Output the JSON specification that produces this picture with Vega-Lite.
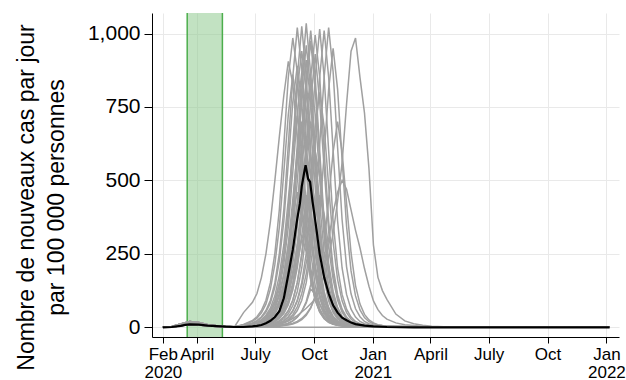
{
"$schema":"https://vega.github.io/schema/vega-lite/v6.json",
"width":467,"height":324,
"autosize":"none",
"padding":{"left":152,"top":13,"right":7,"bottom":43},
"config":{"view":{"stroke":null},"font":"Liberation Sans",
"axis":{"labelFont":"Liberation Sans","titleFont":"Liberation Sans","labelColor":"#000","titleColor":"#000","domainColor":"#000","tickColor":"#000","gridColor":"#e9e9e9","gridWidth":1,"titleFontWeight":"normal","domainWidth":1,"tickWidth":1}},
"encoding":{"x":{"field":"d","type":"temporal",
 "scale":{"type":"utc","nice":false,"domain":[{"year":2020,"month":1,"date":22,"utc":true},{"year":2022,"month":1,"date":20,"hours":16,"utc":true}]},
 "axis":{"title":null,"grid":true,"values":[{"year":2020,"month":2,"date":8,"utc":true},{"year":2020,"month":4,"date":1,"utc":true},{"year":2020,"month":7,"date":1,"utc":true},{"year":2020,"month":10,"date":1,"utc":true},{"year":2021,"month":1,"date":1,"utc":true},{"year":2021,"month":4,"date":1,"utc":true},{"year":2021,"month":7,"date":1,"utc":true},{"year":2021,"month":10,"date":1,"utc":true},{"year":2022,"month":1,"date":1,"utc":true}],
 "labelExpr":"utcmonth(datum.value)==1 ? ['Feb','2020'] : utcmonth(datum.value)==3 ? 'April' : utcmonth(datum.value)==6 ? 'July' : utcmonth(datum.value)==9 ? 'Oct' : ['Jan', utcyear(datum.value)+'']",
 "labelFontSize":17,"labelLineHeight":18,"tickSize":6,"labelPadding":3,"labelOverlap":false,"labelFlush":false,"labelBound":false}}},
"layer":[
{"data":{"values":[{"d":"2020-03-17","d2":"2020-05-11"}]},
 "mark":{"type":"rect","fill":"#8fcb8f","fillOpacity":0.55,"strokeWidth":0},
 "encoding":{"x2":{"field":"d2"}}},
{"data":{"values":[{"d":"2020-03-17"},{"d":"2020-05-11"}]},
 "mark":{"type":"rule","stroke":"#4cae4c","strokeWidth":1.5},
 "encoding":{}},
{"data":{"values":[
{"s":"a","vals":[0,3,11,20,16,9,5,3,2,50,85,115,170,250,360,500,650,790,905,830,640,430,270,160,95,55,33,20,13,9,7,5,4,3,3,2,2,2,1,1,1,1,0,0,0,0,0,0]},
{"s":"b","vals":[0,2,8,15,12,7,4,3,2,10,23,36,57,92,152,252,402,622,852,985,870,580,362,202,112,62,35,20,12,8,6,5,4,3,3,2,2,2,2,1,1,1,1,1,0,0,0,0]},
{"s":"c","vals":[0,1,5,10,8,5,3,2,1,9,20,31,49,79,130,215,342,529,725,860,740,512,308,172,96,53,30,17,11,7,5,5,4,3,3,2,2,2,2,1,1,1,1,0,0,0,0,0]},
{"s":"d","vals":[0,2,7,13,10,6,4,2,2,7,15,23,36,57,92,152,252,402,622,852,1020,880,600,362,202,112,62,35,20,12,8,6,5,4,3,3,2,2,2,2,1,1,1,1,0,0,0,0]},
{"s":"e","vals":[0,2,8,15,12,7,4,3,2,7,14,21,33,52,83,137,227,362,560,767,890,765,540,326,182,101,56,32,18,11,7,6,5,4,3,3,2,2,2,1,1,1,1,0,0,0,0,0]},
{"s":"f","vals":[0,3,11,20,16,9,5,3,2,6,11,17,26,41,65,107,177,282,436,597,720,610,422,254,142,79,44,25,15,9,6,5,4,3,3,2,2,2,1,1,1,1,0,0,0,0,0,0]},
{"s":"g","vals":[0,1,5,10,8,5,3,2,1,4,8,11,17,27,43,70,115,182,281,385,460,385,272,164,92,52,29,17,10,7,5,4,3,3,2,2,2,1,1,1,1,1,0,0,0,0,0,0]},
{"s":"h","vals":[0,2,7,13,10,6,4,2,2,5,10,15,23,36,57,92,152,252,402,622,852,1025,852,602,362,202,112,62,35,20,12,8,6,5,4,3,3,2,2,2,2,1,1,1,0,0,0,0]},
{"s":"i","vals":[0,2,8,15,12,7,4,3,2,5,10,14,22,34,54,88,145,240,382,591,810,940,810,572,344,192,107,59,33,19,12,8,6,5,4,3,3,2,2,2,1,1,1,0,0,0,0,0]},
{"s":"j","vals":[0,3,11,20,16,9,5,3,2,5,9,13,20,31,49,79,130,215,342,529,725,870,725,512,308,172,96,53,30,17,11,7,5,5,4,3,3,2,2,2,1,1,1,0,0,0,0,0]},
{"s":"k","vals":[0,1,5,10,8,5,3,2,1,4,8,11,17,26,41,65,107,177,282,436,597,700,597,422,254,142,79,44,25,15,9,6,5,4,3,3,2,2,2,1,1,1,0,0,0,0,0,0]},
{"s":"l","vals":[0,2,7,13,10,6,4,2,2,4,6,9,13,19,30,47,77,127,202,312,427,510,427,302,182,102,57,32,19,11,7,5,4,3,3,2,2,2,1,1,1,1,0,0,0,0,0,0]},
{"s":"m","vals":[0,2,8,15,12,7,4,3,2,3,4,6,8,12,19,29,47,77,122,188,257,300,257,182,110,62,35,20,12,7,5,4,3,3,2,2,2,1,1,1,1,0,0,0,0,0,0,0]},
{"s":"n","vals":[0,3,11,20,16,9,5,3,2,3,7,10,15,23,36,57,92,152,252,402,622,852,1035,860,602,362,202,112,62,35,20,12,8,6,5,4,3,3,2,2,2,2,1,1,0,0,0,0]},
{"s":"o","vals":[0,1,5,10,8,5,3,2,1,3,7,10,14,22,34,54,88,145,240,382,591,810,960,810,572,344,192,107,59,33,19,12,8,6,5,4,3,3,2,2,2,1,1,1,0,0,0,0]},
{"s":"p","vals":[0,2,7,13,10,6,4,2,2,3,7,9,14,21,33,52,83,137,227,362,560,767,910,767,542,326,182,101,56,32,18,11,7,6,5,4,3,3,2,2,2,1,1,0,0,0,0,0]},
{"s":"q","vals":[0,2,8,15,12,7,4,3,2,3,6,8,12,19,29,46,74,122,202,322,498,682,800,682,482,290,162,90,50,28,16,10,7,5,4,3,3,2,2,2,1,1,1,0,0,0,0,0]},
{"s":"r","vals":[0,3,11,20,16,9,5,3,2,3,5,7,10,15,22,35,56,92,152,242,374,512,600,512,362,218,122,68,38,22,13,8,6,4,4,3,2,2,2,1,1,1,0,0,0,0,0,0]},
{"s":"s","vals":[0,1,5,10,8,5,3,2,1,3,4,6,8,11,17,27,43,70,115,182,281,385,450,385,272,164,92,52,29,17,10,7,5,4,3,3,2,2,2,1,1,1,0,0,0,0,0,0]},
{"s":"t","vals":[0,2,7,13,10,6,4,2,2,2,4,5,7,9,14,21,34,55,90,142,219,300,350,300,212,128,72,41,23,14,8,6,4,3,3,2,2,2,1,1,1,0,0,0,0,0,0,0]},
{"s":"u","vals":[0,2,8,15,12,7,4,3,2,2,5,7,10,15,23,36,57,92,152,252,402,622,852,1010,852,602,362,202,112,62,35,20,12,8,6,5,4,3,3,2,2,2,1,1,1,0,0,0]},
{"s":"v","vals":[0,3,11,20,16,9,5,3,2,2,5,7,10,14,22,34,54,88,145,240,382,591,810,975,810,572,344,192,107,59,33,19,12,8,6,5,4,3,3,2,2,2,1,1,0,0,0,0]},
{"s":"w","vals":[0,1,5,10,8,5,3,2,1,2,5,6,9,13,20,31,49,79,130,215,342,529,725,850,725,512,308,172,96,53,30,17,11,7,5,5,4,3,3,2,2,1,1,1,0,0,0,0]},
{"s":"x","vals":[0,2,7,13,10,6,4,2,2,2,4,6,8,11,17,26,41,65,107,177,282,436,597,700,597,422,254,142,79,44,25,15,9,6,5,4,3,3,2,2,2,1,1,0,0,0,0,0]},
{"s":"y","vals":[0,2,8,15,12,7,4,3,2,2,4,5,6,9,13,19,30,47,77,127,202,312,427,500,427,302,182,102,57,32,19,11,7,5,4,3,3,2,2,2,1,1,1,0,0,0,0,0]},
{"s":"z","vals":[0,3,11,20,16,9,5,3,2,2,2,3,3,3,4,5,6,9,14,22,35,54,83,130,113,80,49,28,16,10,6,4,3,3,2,2,2,1,1,1,1,0,0,0,0,0,0,0]},
{"s":"A","vals":[0,1,5,10,8,5,3,2,1,2,3,5,7,10,15,23,36,57,92,152,252,402,622,852,995,852,602,362,202,112,62,35,20,12,8,6,5,4,3,3,2,2,2,1,1,0,0,0]},
{"s":"B","vals":[0,2,7,13,10,6,4,2,2,2,3,5,7,9,14,21,33,52,83,137,227,362,560,767,930,767,542,326,182,101,56,32,18,11,7,6,5,4,3,3,2,2,1,1,0,0,0,0]},
{"s":"C","vals":[0,2,8,15,12,7,4,3,2,2,3,4,5,7,10,15,22,35,56,92,152,242,374,512,600,512,362,218,122,68,38,22,13,8,6,4,4,3,2,2,2,1,1,0,0,0,0,0]},
{"s":"D","vals":[0,3,11,20,16,9,5,3,2,2,2,3,4,5,7,9,14,21,34,55,90,142,219,300,350,300,212,128,72,41,23,14,8,6,4,3,3,2,2,2,1,1,0,0,0,0,0,0]},
{"s":"E","vals":[0,1,5,10,8,5,3,2,1,2,3,3,5,7,10,15,23,36,57,92,152,252,402,622,852,1015,852,602,362,202,112,62,35,20,12,8,6,5,4,3,3,2,2,1,1,1,0,0]},
{"s":"F","vals":[0,2,7,13,10,6,4,2,2,2,3,3,4,6,8,12,19,29,46,74,122,202,322,498,682,800,682,482,290,162,90,50,28,16,10,7,5,4,3,3,2,2,1,1,0,0,0,0]},
{"s":"G","vals":[0,2,8,15,12,7,4,3,2,2,2,3,3,4,6,8,11,17,27,43,70,115,182,281,385,450,385,272,164,92,52,29,17,10,7,5,4,3,3,2,2,1,1,0,0,0,0,0]},
{"s":"H","vals":[0,3,11,20,16,9,5,3,2,2,2,3,3,5,7,10,15,23,36,57,92,152,252,402,622,852,1010,852,602,362,202,112,62,35,20,12,8,6,5,4,3,3,2,2,1,1,0,0]},
{"s":"I","vals":[0,1,5,10,8,5,3,2,1,2,2,2,3,3,5,7,10,15,23,36,57,92,152,252,402,622,852,1020,870,612,367,206,114,63,36,20,12,8,6,5,4,3,3,2,2,1,1,0]},
{"s":"J","vals":[0,2,7,13,10,6,4,2,2,2,2,2,2,3,3,5,7,10,14,22,34,54,88,145,240,382,591,810,950,810,572,344,192,107,59,33,19,12,8,6,5,4,3,3,2,2,1,0]},
{"s":"K","vals":[0,2,8,15,12,7,4,3,2,2,2,3,3,4,6,8,11,15,21,30,40,52,65,80,95,130,175,240,320,430,560,760,940,985,850,730,540,280,170,125,95,45,22,12,7,4,1,0]},
{"s":"L","vals":[0,1,5,10,8,5,3,2,1,0,0,0,0,0,0,0,0,0,0,0,0,0,0,0,0,0,0,0,0,0,0,0,0,0,0,0,0,0,0,0,0,0,0,0,0,0,0,0]},
{"s":"M","vals":[0,3,11,20,16,9,5,3,2,2,2,2,2,2,3,3,4,6,8,11,17,26,41,65,107,177,282,436,597,700,597,422,254,142,79,44,25,15,9,6,5,4,3,2,2,1,1,0]},
{"s":"N","vals":[0,2,7,13,10,6,4,2,2,2,2,2,2,3,3,4,5,7,10,14,20,30,45,68,100,150,215,300,390,460,500,470,400,330,270,200,140,90,60,40,28,15,9,6,4,2,1,0]}
]},
 "transform":[
  {"flatten":["vals"],"as":["v"]},
  {"window":[{"op":"row_number","as":"i"}],"groupby":["s"]},
  {"lookup":"i","from":{"data":{"values":[{"i":1,"dt":1581120000000},{"i":2,"dt":1582329600000},{"i":3,"dt":1583539200000},{"i":4,"dt":1584748800000},{"i":5,"dt":1585958400000},{"i":6,"dt":1587168000000},{"i":7,"dt":1588377600000},{"i":8,"dt":1589587200000},{"i":9,"dt":1590796800000},{"i":10,"dt":1592006400000},{"i":11,"dt":1593216000000},{"i":12,"dt":1593820800000},{"i":13,"dt":1594425600000},{"i":14,"dt":1595030400000},{"i":15,"dt":1595635200000},{"i":16,"dt":1596240000000},{"i":17,"dt":1596844800000},{"i":18,"dt":1597449600000},{"i":19,"dt":1598054400000},{"i":20,"dt":1598659200000},{"i":21,"dt":1599264000000},{"i":22,"dt":1599868800000},{"i":23,"dt":1600473600000},{"i":24,"dt":1601078400000},{"i":25,"dt":1601683200000},{"i":26,"dt":1602288000000},{"i":27,"dt":1602892800000},{"i":28,"dt":1603497600000},{"i":29,"dt":1604102400000},{"i":30,"dt":1604707200000},{"i":31,"dt":1605312000000},{"i":32,"dt":1605916800000},{"i":33,"dt":1606521600000},{"i":34,"dt":1607126400000},{"i":35,"dt":1607731200000},{"i":36,"dt":1608336000000},{"i":37,"dt":1608940800000},{"i":38,"dt":1609545600000},{"i":39,"dt":1610150400000},{"i":40,"dt":1610755200000},{"i":41,"dt":1611360000000},{"i":42,"dt":1612569600000},{"i":43,"dt":1613779200000},{"i":44,"dt":1614988800000},{"i":45,"dt":1616198400000},{"i":46,"dt":1617408000000},{"i":47,"dt":1619827200000},{"i":48,"dt":1641427200000}]},"key":"i","fields":["dt"]}}
 ],
 "mark":{"type":"line","stroke":"#a0a0a0","strokeWidth":1.5},
 "encoding":{
  "x":{"field":"dt","type":"temporal","scale":{"type":"utc","nice":false,"domain":[{"year":2020,"month":1,"date":22,"utc":true},{"year":2022,"month":1,"date":20,"hours":16,"utc":true}]}},
  "y":{"field":"v","type":"quantitative","scale":{"domain":[-33,1070],"nice":false,"zero":false},
   "axis":{"values":[0,250,500,750,1000],"format":",.0f","labelFontSize":21,"tickSize":8,"labelPadding":4,"grid":true,
    "title":["Nombre de nouveaux cas par jour","par 100 000 personnes"],"titleFontSize":23,"titleLineHeight":30,"titleAngle":-90,"titleAlign":"center","titleBaseline":"top","titleX":-137,"titleY":184}},
  "detail":{"field":"s"},
  "order":{"field":"i","type":"quantitative"}}},
{"data":{"values":[
{"d":"2020-02-08","v":0},{"d":"2020-02-22","v":1},{"d":"2020-03-07","v":5},{"d":"2020-03-14","v":8},{"d":"2020-03-21","v":10},{"d":"2020-04-04","v":9},{"d":"2020-04-18","v":6},{"d":"2020-05-02","v":4},{"d":"2020-05-16","v":2},{"d":"2020-05-30","v":1},{"d":"2020-06-13","v":1},{"d":"2020-06-27","v":3},{"d":"2020-07-04","v":5},{"d":"2020-07-11","v":8},{"d":"2020-07-18","v":14},{"d":"2020-07-25","v":22},{"d":"2020-08-01","v":35},{"d":"2020-08-08","v":55},{"d":"2020-08-15","v":100},{"d":"2020-08-22","v":180},{"d":"2020-08-29","v":265},{"d":"2020-09-05","v":370},{"d":"2020-09-09","v":420},{"d":"2020-09-12","v":480},{"d":"2020-09-14","v":505},{"d":"2020-09-16","v":530},{"d":"2020-09-18","v":552},{"d":"2020-09-20","v":528},{"d":"2020-09-22","v":505},{"d":"2020-09-25","v":495},{"d":"2020-09-29","v":425},{"d":"2020-10-03","v":365},{"d":"2020-10-10","v":250},{"d":"2020-10-17","v":170},{"d":"2020-10-24","v":115},{"d":"2020-10-31","v":75},{"d":"2020-11-07","v":50},{"d":"2020-11-14","v":33},{"d":"2020-11-21","v":24},{"d":"2020-11-28","v":16},{"d":"2020-12-05","v":11},{"d":"2020-12-19","v":6},{"d":"2021-01-02","v":3},{"d":"2021-01-23","v":1},{"d":"2021-03-06","v":0},{"d":"2022-01-06","v":0}
]},
 "mark":{"type":"line","stroke":"#000","strokeWidth":2.2},
 "encoding":{
  "y":{"field":"v","type":"quantitative","scale":{"domain":[-33,1070],"nice":false,"zero":false},
   "axis":{"values":[0,250,500,750,1000],"format":",.0f","labelFontSize":21,"tickSize":8,"labelPadding":4,"grid":true,
    "title":["Nombre de nouveaux cas par jour","par 100 000 personnes"],"titleFontSize":23,"titleLineHeight":30,"titleAngle":-90,"titleAlign":"center","titleBaseline":"top","titleX":-137,"titleY":184}}}}
]
}
